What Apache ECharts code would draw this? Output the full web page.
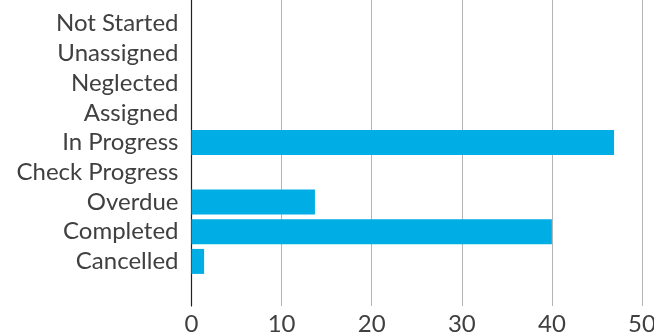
<!DOCTYPE html>
<html>
<head>
<meta charset="utf-8">
<script src="https://cdn.jsdelivr.net/npm/echarts@6/dist/echarts.min.js"></script>
<style>html,body{margin:0;padding:0;background:#fff}#c{width:654px;height:334px}</style>
</head>
<body>
<div id="c"></div>
<script>
const categories = ['Not Started','Unassigned','Neglected','Assigned','In Progress','Check Progress','Overdue','Completed','Cancelled'];
const values = [0, 0, 0, 0, 46.9, 0, 13.7, 40.0, 1.4];
const xTicks = { min: 0, max: 50, interval: 10 };

const cats = [''].concat(categories, ['']);
const vals = [null].concat(values.map(v => v === 0 ? null : v), [null]);

const chart = echarts.init(document.getElementById('c'), null, {renderer: 'canvas'});
chart.setOption({
  animation: false,
  textStyle: { fontFamily: 'Lato' },
  grid: { left: 191.5, right: 12, top: -21, bottom: 28, containLabel: false, outerBoundsMode: 'none' },
  xAxis: {
    type: 'value', min: xTicks.min, max: xTicks.max, interval: xTicks.interval,
    axisLine: { show: false }, axisTick: { show: false },
    splitLine: { show: true, lineStyle: { color: '#b4b4b4', width: 1 } },
    axisLabel: { fontSize: 24, color: '#404040', margin: 6, fontFamily: 'Lato' }
  },
  yAxis: {
    type: 'category', data: cats, inverse: true,
    axisLine: { show: true, lineStyle: { color: '#222', width: 1.2 } },
    axisTick: { show: false },
    axisLabel: { interval: 0, fontSize: 24, color: '#404040', margin: 13, fontFamily: 'Lato' }
  },
  series: [{
    type: 'bar', data: vals, barWidth: 25,
    itemStyle: { color: '#00ADE4' }
  }]
});
</script>
</body>
</html>
